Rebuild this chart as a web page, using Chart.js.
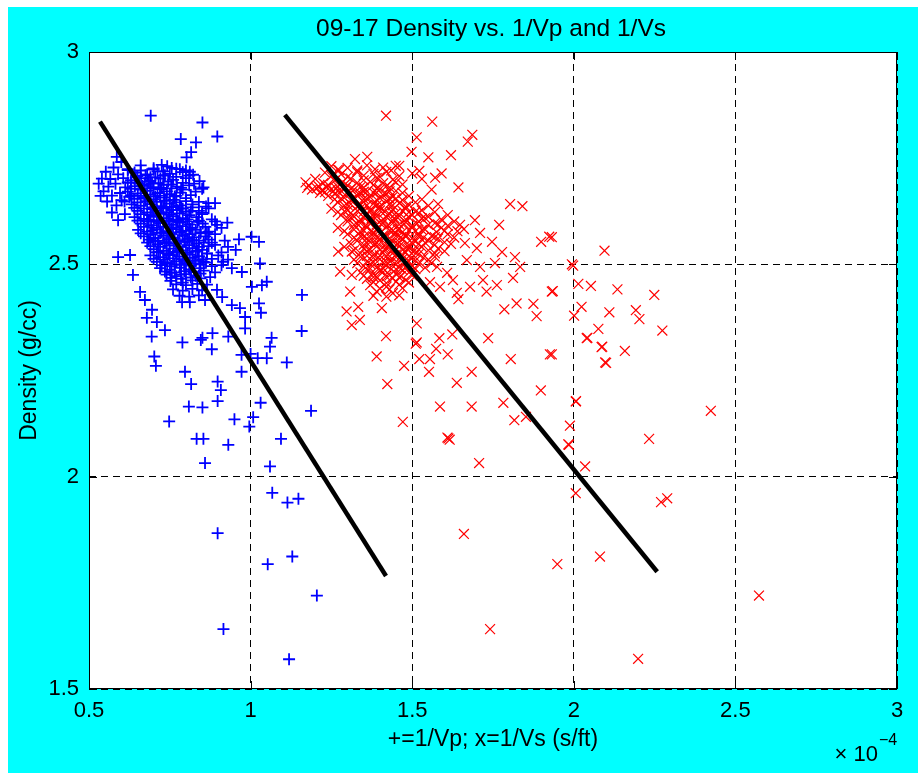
<!DOCTYPE html>
<html>
<head>
<meta charset="utf-8">
<title>09-17 Density vs. 1/Vp and 1/Vs</title>
<script src="https://cdn.jsdelivr.net/npm/chart.js@4.4.1/dist/chart.umd.min.js"></script>
<style>
  html, body { margin: 0; padding: 0; background: #fff; }
  canvas { display: block; }
</style>
</head>
<body>
<canvas id="chart" width="918" height="773"></canvas>
<script>
// Slowness is in units of 1e-4 s/ft, density in g/cc.
var TITLE = '09-17 Density vs. 1/Vp and 1/Vs';
var X_LABEL = '+=1/Vp; x=1/Vs (s/ft)';
var Y_LABEL = 'Density (g/cc)';
var X_TICKS = [0.5, 1, 1.5, 2, 2.5, 3];
var Y_TICKS = [1.5, 2, 2.5, 3];

// 1/Vp samples, [slowness, density]
var vpPoints = [
  [0.53,2.69],[0.54,2.702],[0.545,2.672],[0.552,2.718],[0.56,2.683],[0.566,2.701],[0.571,2.662],[0.576,2.728],
  [0.582,2.69],[0.59,2.712],[0.596,2.668],[0.601,2.651],[0.606,2.703],[0.612,2.681],[0.62,2.722],[0.625,2.659],
  [0.631,2.692],[0.536,2.661],[0.556,2.648],[0.585,2.639],[0.60,2.741],[0.571,2.622],[0.611,2.618],[0.59,2.604],
  [0.66,2.733],[0.70,2.726],[0.742,2.731],[0.781,2.724],
  [0.641,2.716],[0.68,2.712],[0.712,2.719],[0.75,2.713],[0.79,2.717],[0.822,2.711],
  [0.63,2.698],[0.661,2.703],[0.69,2.697],[0.721,2.702],[0.76,2.699],[0.80,2.703],[0.842,2.696],
  [0.642,2.684],[0.672,2.688],[0.70,2.682],[0.731,2.687],[0.772,2.683],[0.81,2.686],
  [0.62,2.671],[0.651,2.667],[0.68,2.673],[0.712,2.668],[0.741,2.672],[0.782,2.669],[0.83,2.671],
  [0.64,2.654],[0.671,2.658],[0.70,2.653],[0.732,2.657],[0.761,2.652],[0.80,2.656],
  [0.632,2.641],[0.66,2.638],[0.69,2.642],[0.722,2.637],[0.75,2.643],[0.781,2.639],[0.82,2.641],[0.862,2.636],
  [0.65,2.626],[0.68,2.622],[0.711,2.627],[0.74,2.623],[0.772,2.628],[0.80,2.624],[0.84,2.626],
  [0.641,2.611],[0.67,2.607],[0.70,2.612],[0.731,2.608],[0.76,2.613],[0.79,2.609],[0.832,2.611],[0.88,2.606],
  [0.66,2.596],[0.692,2.592],[0.72,2.597],[0.75,2.593],[0.781,2.598],[0.81,2.594],[0.852,2.596],
  [0.652,2.581],[0.68,2.577],[0.71,2.582],[0.742,2.578],[0.77,2.583],[0.80,2.579],[0.83,2.581],[0.871,2.577],
  [0.67,2.566],[0.70,2.562],[0.73,2.567],[0.761,2.563],[0.79,2.568],[0.82,2.564],[0.86,2.566],
  [0.68,2.551],[0.712,2.547],[0.74,2.552],[0.77,2.548],[0.80,2.553],[0.832,2.549],[0.88,2.551],
  [0.70,2.536],[0.73,2.532],[0.762,2.537],[0.79,2.533],[0.82,2.538],[0.85,2.534],
  [0.69,2.521],[0.72,2.517],[0.75,2.522],[0.78,2.518],[0.812,2.523],[0.84,2.519],[0.90,2.521],
  [0.71,2.506],[0.742,2.502],[0.77,2.507],[0.80,2.503],[0.83,2.508],[0.862,2.504],
  [0.72,2.491],[0.75,2.487],[0.781,2.492],[0.81,2.488],[0.842,2.491],
  [0.74,2.476],[0.77,2.472],[0.80,2.477],[0.83,2.473],
  [0.752,2.461],[0.79,2.457],[0.82,2.462],
  [0.62,2.724],[0.66,2.721],[0.70,2.723],[0.73,2.719],[0.77,2.725],[0.80,2.721],
  [0.65,2.708],[0.69,2.705],[0.73,2.709],[0.77,2.706],[0.81,2.709],
  [0.62,2.693],[0.655,2.690],[0.685,2.694],[0.715,2.691],[0.745,2.695],[0.79,2.692],[0.825,2.690],
  [0.63,2.678],[0.66,2.676],[0.69,2.679],[0.72,2.677],[0.755,2.679],[0.79,2.676],[0.85,2.678],
  [0.63,2.663],[0.66,2.661],[0.69,2.664],[0.72,2.662],[0.75,2.665],[0.77,2.661],[0.815,2.663],
  [0.61,2.648],[0.65,2.646],[0.68,2.649],[0.71,2.647],[0.74,2.650],[0.77,2.646],[0.80,2.649],[0.84,2.647],
  [0.64,2.633],[0.67,2.631],[0.70,2.634],[0.73,2.632],[0.76,2.635],[0.79,2.631],[0.82,2.634],[0.87,2.632],
  [0.66,2.618],[0.69,2.616],[0.72,2.619],[0.75,2.617],[0.78,2.620],[0.81,2.616],[0.85,2.618],
  [0.65,2.603],[0.68,2.601],[0.71,2.604],[0.74,2.602],[0.77,2.605],[0.80,2.601],[0.84,2.603],[0.89,2.601],
  [0.67,2.588],[0.70,2.586],[0.73,2.589],[0.76,2.587],[0.79,2.590],[0.82,2.586],[0.86,2.588],[0.91,2.586],
  [0.66,2.573],[0.69,2.571],[0.72,2.574],[0.75,2.572],[0.78,2.575],[0.81,2.571],[0.845,2.573],[0.89,2.571],
  [0.685,2.558],[0.715,2.556],[0.745,2.559],[0.775,2.557],[0.805,2.560],[0.84,2.556],[0.87,2.558],[0.92,2.556],
  [0.69,2.543],[0.72,2.541],[0.75,2.544],[0.78,2.542],[0.81,2.545],[0.84,2.541],[0.87,2.543],[0.93,2.541],
  [0.71,2.528],[0.74,2.526],[0.77,2.529],[0.80,2.527],[0.83,2.530],[0.865,2.526],[0.91,2.528],
  [0.70,2.513],[0.73,2.511],[0.76,2.514],[0.79,2.512],[0.82,2.515],[0.85,2.511],[0.88,2.513],[0.93,2.511],
  [0.725,2.498],[0.755,2.496],[0.785,2.499],[0.815,2.497],[0.845,2.500],[0.88,2.496],[0.91,2.498],
  [0.735,2.483],[0.765,2.481],[0.795,2.484],[0.825,2.482],[0.855,2.485],[0.89,2.481],
  [0.755,2.468],[0.785,2.466],[0.815,2.469],[0.845,2.467],[0.875,2.470],
  [0.77,2.453],[0.80,2.451],[0.835,2.454],[0.865,2.452],
  [0.76,2.441],[0.79,2.438],[0.82,2.442],[0.85,2.439],
  [0.78,2.426],[0.81,2.424],[0.84,2.427],
  [0.645,2.705],[0.675,2.710],[0.705,2.705],[0.735,2.710],
  [0.665,2.685],[0.695,2.690],[0.725,2.680],[0.755,2.688],[0.785,2.680],
  [0.675,2.655],[0.705,2.660],[0.735,2.650],[0.765,2.660],
  [0.695,2.630],[0.725,2.635],[0.755,2.628],[0.785,2.632],[0.815,2.625],
  [0.685,2.605],[0.715,2.600],[0.745,2.608],[0.775,2.602],[0.805,2.606],[0.835,2.600],
  [0.695,2.580],[0.725,2.575],[0.755,2.585],[0.785,2.578],[0.815,2.583],[0.845,2.576],
  [0.705,2.555],[0.735,2.550],[0.765,2.560],[0.795,2.553],[0.825,2.557],[0.855,2.551],
  [0.715,2.530],[0.745,2.525],[0.775,2.533],[0.805,2.528],[0.835,2.532],[0.865,2.525],
  [0.735,2.505],[0.765,2.500],[0.795,2.508],[0.825,2.502],[0.855,2.506],
  [0.755,2.480],[0.785,2.476],[0.815,2.483],[0.845,2.478],
  [0.590,2.517],[0.627,2.522],[0.636,2.475],[0.658,2.435],[0.673,2.416],[0.695,2.393],[0.679,2.374],[0.710,2.364],
  [0.735,2.345],[0.788,2.411],[0.812,2.411],[0.859,2.416],[0.896,2.440],[0.912,2.423],[0.942,2.404],[0.967,2.397],
  [0.983,2.376],[1.004,2.447],[1.035,2.451],[0.942,2.491],[0.973,2.482],[0.915,2.506],[0.890,2.546],[0.865,2.574],
  [0.850,2.621],[0.896,2.593],
  [0.691,2.850],[0.851,2.834],[0.897,2.801],[0.784,2.795],[0.831,2.787],[0.816,2.764],[0.802,2.752],[0.586,2.753],
  [0.725,2.734],[0.756,2.727],[0.812,2.718],[0.854,2.681],[0.869,2.644],[0.890,2.644],[0.928,2.598],[0.964,2.559],
  [1.003,2.565],[1.026,2.553],[0.954,2.534],[1.029,2.502],[1.050,2.459],[1.026,2.408],[1.032,2.386],[1.065,2.327],
  [0.694,2.330],[0.789,2.316],[0.851,2.327],[0.882,2.338],[0.931,2.330],[0.983,2.349],[0.846,2.322],[0.880,2.300],
  [1.060,2.306],[1.158,2.343],[1.159,2.428],[0.702,2.283],[0.707,2.261],[0.797,2.247],[0.816,2.218],[0.898,2.224],
  [0.908,2.204],[0.898,2.178],[0.809,2.165],[0.851,2.163],[0.972,2.287],[1.000,2.289],[1.022,2.279],[1.050,2.279],
  [0.972,2.247],[1.112,2.269],[1.031,2.174],[1.187,2.155],[0.748,2.130],[0.950,2.135],[1.008,2.140],[0.996,2.118],
  [0.833,2.089],[0.854,2.089],[0.931,2.075],[1.094,2.089],[0.859,2.032],[1.060,2.024],[1.067,1.962],[1.114,1.939],
  [1.148,1.948],[0.898,1.867],[1.053,1.794],[1.129,1.812],[1.205,1.720],[0.916,1.641],[1.119,1.570]
];

// 1/Vs samples, [slowness, density]
var vsPoints = [
  [1.25,2.731],[1.30,2.727],[1.36,2.733],[1.41,2.728],[1.46,2.732],
  [1.23,2.716],[1.28,2.712],[1.33,2.717],[1.38,2.713],[1.42,2.718],[1.50,2.714],
  [1.20,2.701],[1.26,2.697],[1.31,2.702],[1.35,2.698],[1.39,2.703],[1.44,2.699],[1.53,2.701],
  [1.18,2.686],[1.21,2.684],[1.24,2.687],[1.27,2.683],[1.30,2.686],[1.34,2.682],[1.38,2.687],[1.42,2.684],[1.47,2.688],
  [1.19,2.676],[1.22,2.674],[1.25,2.677],[1.28,2.673],[1.32,2.676],[1.36,2.672],[1.40,2.677],[1.45,2.673],[1.56,2.676],
  [1.24,2.661],[1.29,2.657],[1.33,2.662],[1.37,2.658],[1.41,2.663],[1.44,2.659],[1.49,2.661],
  [1.27,2.646],[1.31,2.642],[1.35,2.647],[1.38,2.643],[1.42,2.648],[1.46,2.644],[1.51,2.646],[1.58,2.642],
  [1.25,2.631],[1.30,2.627],[1.34,2.632],[1.37,2.628],[1.40,2.633],[1.44,2.629],[1.48,2.631],[1.53,2.627],
  [1.28,2.616],[1.32,2.612],[1.36,2.617],[1.39,2.613],[1.43,2.618],[1.46,2.614],[1.50,2.616],[1.55,2.612],[1.61,2.616],
  [1.30,2.601],[1.34,2.597],[1.37,2.602],[1.41,2.598],[1.44,2.603],[1.48,2.599],[1.52,2.601],[1.57,2.597],[1.63,2.601],
  [1.27,2.586],[1.32,2.582],[1.36,2.587],[1.39,2.583],[1.42,2.588],[1.46,2.584],[1.50,2.586],[1.54,2.582],[1.59,2.586],[1.66,2.583],
  [1.30,2.571],[1.34,2.567],[1.38,2.572],[1.41,2.568],[1.45,2.573],[1.48,2.569],[1.52,2.571],[1.56,2.567],[1.61,2.571],
  [1.33,2.556],[1.37,2.552],[1.40,2.557],[1.44,2.553],[1.47,2.558],[1.51,2.554],[1.55,2.556],[1.60,2.552],
  [1.29,2.541],[1.35,2.537],[1.39,2.542],[1.42,2.538],[1.46,2.543],[1.49,2.539],[1.53,2.541],[1.58,2.537],
  [1.34,2.526],[1.38,2.522],[1.41,2.527],[1.45,2.523],[1.48,2.528],[1.52,2.524],[1.57,2.526],
  [1.32,2.511],[1.36,2.507],[1.40,2.512],[1.43,2.508],[1.47,2.513],[1.51,2.509],[1.55,2.511],
  [1.35,2.496],[1.39,2.492],[1.42,2.497],[1.46,2.493],[1.50,2.496],[1.54,2.492],
  [1.34,2.481],[1.38,2.477],[1.41,2.482],[1.45,2.478],[1.49,2.481],
  [1.36,2.466],[1.40,2.462],[1.44,2.467],[1.48,2.463],
  [1.37,2.451],[1.42,2.447],[1.46,2.452],
  [1.39,2.436],[1.44,2.432],
  [1.27,2.723],[1.33,2.721],[1.385,2.724],[1.435,2.721],
  [1.25,2.708],[1.30,2.706],[1.35,2.709],[1.40,2.706],[1.46,2.708],
  [1.17,2.693],[1.225,2.691],[1.285,2.694],[1.33,2.692],[1.37,2.694],[1.41,2.691],[1.45,2.693],
  [1.175,2.680],[1.205,2.679],[1.235,2.681],[1.265,2.679],[1.295,2.681],[1.31,2.678],[1.35,2.681],[1.39,2.679],[1.43,2.681],
  [1.215,2.668],[1.26,2.666],[1.30,2.669],[1.34,2.667],[1.38,2.669],[1.42,2.666],[1.47,2.668],
  [1.26,2.653],[1.31,2.651],[1.35,2.654],[1.39,2.652],[1.43,2.654],[1.47,2.651],[1.53,2.653],
  [1.29,2.638],[1.33,2.636],[1.36,2.639],[1.40,2.637],[1.44,2.639],[1.48,2.636],[1.55,2.638],
  [1.27,2.623],[1.31,2.621],[1.35,2.624],[1.385,2.622],[1.415,2.624],[1.45,2.621],[1.49,2.623],[1.52,2.621],[1.57,2.623],
  [1.30,2.608],[1.34,2.606],[1.375,2.609],[1.41,2.607],[1.445,2.609],[1.48,2.606],[1.53,2.608],[1.59,2.606],
  [1.32,2.593],[1.355,2.591],[1.39,2.594],[1.425,2.592],[1.46,2.594],[1.50,2.591],[1.55,2.593],[1.61,2.591],
  [1.29,2.578],[1.34,2.576],[1.375,2.579],[1.405,2.577],[1.44,2.579],[1.47,2.576],[1.51,2.578],[1.575,2.576],[1.64,2.578],
  [1.32,2.563],[1.36,2.561],[1.395,2.564],[1.43,2.562],[1.465,2.564],[1.50,2.561],[1.535,2.563],[1.58,2.561],[1.63,2.563],
  [1.31,2.548],[1.35,2.546],[1.385,2.549],[1.42,2.547],[1.455,2.549],[1.49,2.546],[1.52,2.548],[1.57,2.546],[1.62,2.548],
  [1.32,2.533],[1.36,2.531],[1.40,2.534],[1.435,2.532],[1.47,2.534],[1.505,2.531],[1.55,2.533],[1.60,2.531],
  [1.34,2.518],[1.38,2.516],[1.42,2.519],[1.45,2.517],[1.49,2.519],[1.535,2.516],[1.57,2.518],
  [1.33,2.503],[1.37,2.501],[1.41,2.504],[1.445,2.502],[1.48,2.504],[1.52,2.501],[1.56,2.503],
  [1.36,2.488],[1.40,2.486],[1.435,2.489],[1.47,2.487],[1.51,2.489],
  [1.35,2.473],[1.39,2.471],[1.43,2.474],[1.465,2.472],[1.50,2.474],
  [1.38,2.458],[1.42,2.456],[1.45,2.459],[1.49,2.457],
  [1.40,2.443],[1.43,2.441],[1.47,2.444],
  [1.38,2.426],[1.42,2.424],[1.46,2.427],
  [1.23,2.670],[1.27,2.672],[1.31,2.668],[1.35,2.671],[1.39,2.669],[1.43,2.672],
  [1.28,2.655],[1.32,2.657],[1.36,2.654],[1.40,2.656],[1.45,2.655],
  [1.30,2.640],[1.34,2.641],[1.39,2.639],[1.43,2.642],[1.49,2.640],
  [1.29,2.625],[1.33,2.626],[1.37,2.624],[1.40,2.627],[1.435,2.625],[1.47,2.626],[1.51,2.624],
  [1.31,2.610],[1.35,2.611],[1.385,2.609],[1.42,2.612],[1.455,2.610],[1.49,2.611],[1.54,2.609],
  [1.33,2.595],[1.37,2.596],[1.405,2.594],[1.44,2.597],[1.475,2.595],[1.515,2.596],[1.58,2.594],
  [1.35,2.580],[1.39,2.581],[1.43,2.579],[1.455,2.582],[1.49,2.580],[1.53,2.581],[1.60,2.579],
  [1.35,2.565],[1.38,2.566],[1.415,2.564],[1.45,2.567],[1.48,2.565],[1.52,2.566],[1.57,2.564],
  [1.36,2.550],[1.39,2.551],[1.43,2.549],[1.46,2.552],[1.50,2.550],[1.54,2.551],
  [1.37,2.535],[1.415,2.536],[1.45,2.534],[1.485,2.537],[1.52,2.535],
  [1.36,2.520],[1.40,2.521],[1.43,2.519],[1.47,2.522],[1.505,2.520],
  [1.38,2.505],[1.42,2.506],[1.455,2.504],[1.49,2.507],
  [1.37,2.490],[1.41,2.491],[1.45,2.489],[1.48,2.492],
  [1.38,2.470],[1.42,2.471],[1.46,2.469],
  [1.419,2.850],[1.562,2.836],[1.514,2.799],[1.686,2.805],[1.672,2.789],[1.498,2.765],[1.620,2.757],[1.550,2.752],
  [1.323,2.748],[1.361,2.753],[1.449,2.732],[1.522,2.720],[1.274,2.722],[1.591,2.714],[1.571,2.704],[1.643,2.681],
  [1.803,2.642],[1.841,2.637],[1.899,2.553],[1.924,2.565],[1.769,2.593],[1.694,2.604],[1.932,2.436],[1.785,2.394],
  [1.823,2.408],[1.875,2.407],[1.885,2.378],[1.730,2.436],[1.643,2.418],[1.419,2.331],[1.584,2.326],[1.624,2.335],
  [1.735,2.326],[1.514,2.361],[1.514,2.316],[1.308,2.436],[1.297,2.389],[1.333,2.400],[1.313,2.357],[1.338,2.369],
  [1.406,2.397],[1.277,2.483],[1.313,2.475],[1.271,2.530],[1.313,2.530],[1.511,2.313],[1.390,2.283],[1.475,2.261],
  [1.522,2.277],[1.555,2.277],[1.574,2.301],[1.610,2.288],[1.552,2.247],[1.684,2.247],[1.638,2.221],[1.805,2.277],
  [1.926,2.288],[1.423,2.218],[1.898,2.203],[1.586,2.165],[1.684,2.165],[1.782,2.174],[1.471,2.129],[1.816,2.133],
  [1.852,2.141],[1.612,2.090],[1.616,2.087],[1.609,2.092],[1.707,2.032],[2.006,2.177],[1.988,2.120],[1.985,2.075],
  [2.035,2.024],[2.006,1.961],[1.660,1.865],[1.949,1.794],[2.081,1.812],[1.741,1.641],[2.040,2.326],[2.086,2.305],
  [2.097,2.269],[1.932,2.564],[2.095,2.532],[1.994,2.500],[1.998,2.497],[2.014,2.454],[2.053,2.449],[2.135,2.441],
  [2.249,2.428],[1.935,2.437],[2.024,2.400],[2.001,2.379],[2.110,2.387],[2.192,2.392],[2.203,2.371],[2.076,2.348],
  [2.042,2.327],[2.274,2.344],[2.088,2.306],[2.158,2.296],[2.100,2.268],[1.932,2.288],[2.007,2.178],[2.424,2.155],
  [1.983,2.076],[2.233,2.089],[2.270,1.940],[2.289,1.949],[2.573,1.720],[2.199,1.571],
  [1.648,2.593],[1.710,2.574],[1.747,2.553],[1.778,2.529],[1.700,2.538],[1.663,2.550],[1.818,2.517],[1.834,2.494],
  [1.756,2.503],[1.710,2.494],[1.669,2.510],[1.762,2.451],[1.812,2.468],[1.719,2.463],[1.679,2.447],[1.626,2.463],
  [1.586,2.447],[1.608,2.480],[1.638,2.433],[1.555,2.458],[1.577,2.494]
];

// least-squares lines, end points [slowness, density]
var vpFit = [[0.534, 2.836], [1.419, 1.766]];
var vsFit = [[1.106, 2.852], [2.258, 1.776]];

var FONT = "'Liberation Sans', Arial, Helvetica, sans-serif";

function toXY(pairs) {
  return pairs.map(function(p) { return {x: p[0], y: p[1]}; });
}

function fixedTicks(values) {
  return function(scale) {
    scale.ticks = values.map(function(v) { return {value: v}; });
  };
}

var framePlugin = {
  id: 'frame',
  beforeDraw: function(chart) {
    var ctx = chart.ctx;
    var a = chart.chartArea;
    ctx.save();
    ctx.fillStyle = '#ffffff';
    ctx.fillRect(0, 0, chart.width, chart.height);
    ctx.fillStyle = '#00ffff';
    ctx.fillRect(8, 7, chart.width - 8, chart.height - 7);
    ctx.fillStyle = '#ffffff';
    ctx.fillRect(a.left, a.top, a.right - a.left, a.bottom - a.top);
    ctx.restore();
  },
  afterDraw: function(chart) {
    var ctx = chart.ctx;
    var a = chart.chartArea;
    var xs = chart.scales.x;
    var ys = chart.scales.y;
    var tick = 8;
    ctx.save();
    ctx.strokeStyle = '#000';
    ctx.lineWidth = 1;
    ctx.strokeRect(a.left + 0.5, a.top + 0.5, a.right - a.left - 1, a.bottom - a.top - 1);

    // inward tick marks on all four sides
    ctx.beginPath();
    X_TICKS.forEach(function(v) {
      var px = Math.round(xs.getPixelForValue(v)) + 0.5;
      ctx.moveTo(px, a.bottom);
      ctx.lineTo(px, a.bottom - tick);
      ctx.moveTo(px, a.top);
      ctx.lineTo(px, a.top + tick);
    });
    Y_TICKS.forEach(function(v) {
      var py = Math.round(ys.getPixelForValue(v)) + 0.5;
      ctx.moveTo(a.left, py);
      ctx.lineTo(a.left + tick, py);
      ctx.moveTo(a.right, py);
      ctx.lineTo(a.right - tick, py);
    });
    ctx.stroke();

    ctx.fillStyle = '#000';
    ctx.textAlign = 'center';
    ctx.textBaseline = 'middle';
    ctx.font = '24.5px ' + FONT;
    ctx.fillText(TITLE, (a.left + a.right) / 2 - 2, 29);

    // axis multiplier
    ctx.textBaseline = 'alphabetic';
    ctx.textAlign = 'right';
    ctx.font = '22px ' + FONT;
    ctx.fillText('\u00d7 10', a.right - 19, 761);
    ctx.textAlign = 'left';
    ctx.font = '16px ' + FONT;
    ctx.fillText('\u22124', a.right - 18, 745);
    ctx.restore();
  }
};

var chart = new Chart(document.getElementById('chart'), {
  type: 'scatter',
  data: {
    datasets: [
      {
        data: toXY(vpFit),
        showLine: true,
        borderColor: '#000',
        borderWidth: 4.5,
        pointRadius: 0,
        order: 0
      },
      {
        data: toXY(vsFit),
        showLine: true,
        borderColor: '#000',
        borderWidth: 4.5,
        pointRadius: 0,
        order: 0
      },
      {
        data: toXY(vpPoints),
        pointStyle: 'cross',
        pointRadius: 6,
        borderColor: '#0000ff',
        borderWidth: 1.8,
        order: 1
      },
      {
        data: toXY(vsPoints),
        pointStyle: 'crossRot',
        pointRadius: 7,
        borderColor: '#ff0000',
        borderWidth: 1.2,
        order: 1
      }
    ]
  },
  options: {
    responsive: false,
    animation: false,
    events: [],
    layout: {padding: {top: 52, right: 21, left: 0, bottom: 0}},
    plugins: {
      legend: {display: false},
      tooltip: {enabled: false},
      title: {display: false}
    },
    scales: {
      x: {
        type: 'linear',
        min: 0.5,
        max: 3,
        afterBuildTicks: fixedTicks(X_TICKS),
        afterFit: function(scale) { scale.height = 84; },
        ticks: {
          color: '#000',
          font: {family: FONT, size: 22},
          padding: 9,
          maxRotation: 0,
          autoSkip: false,
          callback: function(v) { return String(v); }
        },
        grid: {color: '#000', lineWidth: 1, drawTicks: false},
        border: {display: false, dash: [7, 5]},
        title: {
          display: true,
          text: X_LABEL,
          color: '#000',
          font: {family: FONT, size: 23},
          padding: {top: 0, bottom: 20}
        }
      },
      y: {
        type: 'linear',
        min: 1.5,
        max: 3,
        afterBuildTicks: fixedTicks(Y_TICKS),
        afterFit: function(scale) { scale.width = 89; },
        ticks: {
          color: '#000',
          font: {family: FONT, size: 22},
          padding: 10,
          callback: function(v) { return String(v); }
        },
        grid: {color: '#000', lineWidth: 1, drawTicks: false},
        border: {display: false, dash: [7, 5]},
        title: {
          display: true,
          text: Y_LABEL,
          color: '#000',
          font: {family: FONT, size: 23},
          padding: {top: 16, bottom: 0}
        }
      }
    }
  },
  plugins: [framePlugin]
});
</script>
</body>
</html>
